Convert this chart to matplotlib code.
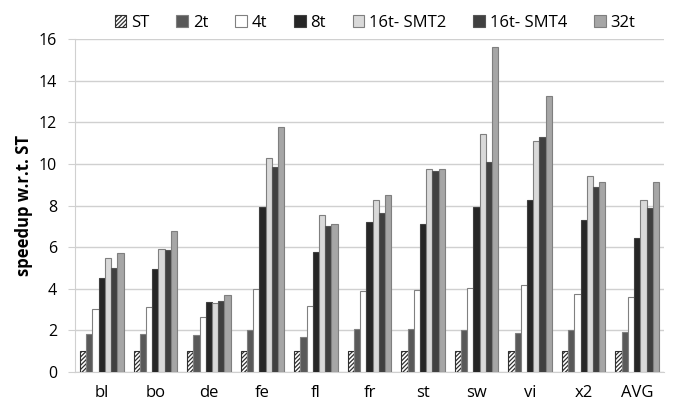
import matplotlib
matplotlib.use("Agg")
import matplotlib.pyplot as plt
import numpy as np

categories = ["bl", "bo", "de", "fe", "fl", "fr", "st", "sw", "vi", "x2", "AVG"]
series_names = ["ST", "2t", "4t", "8t", "16t- SMT2", "16t- SMT4", "32t"]
st    = [1, 1, 1, 1, 1, 1, 1, 1, 1, 1, 1]
t2    = [1.81, 1.81, 1.78, 2.00, 1.68, 2.07, 2.05, 2.00, 1.89, 2.00, 1.92]
t4    = [3.01, 3.12, 2.64, 3.99, 3.19, 3.88, 3.94, 4.04, 4.18, 3.73, 3.59]
t8    = [4.52, 4.94, 3.36, 7.93, 5.77, 7.20, 7.11, 7.93, 8.25, 7.31, 6.43]
smt2  = [5.47, 5.91, 3.33, 10.29, 7.55, 8.27, 9.74, 11.46, 11.09, 9.41, 8.25]
smt4  = [4.98, 5.87, 3.41, 9.87, 7.03, 7.64, 9.65, 10.10, 11.28, 8.88, 7.87]
t32   = [5.71, 6.76, 3.70, 11.76, 7.13, 8.50, 9.78, 15.63, 13.25, 9.15, 9.12]
yticks = [0, 2, 4, 6, 8, 10, 12, 14, 16]

series = [st, t2, t4, t8, smt2, smt4, t32]
faces = ["white", "#595959", "white", "#262626", "#d9d9d9", "#404040", "#a6a6a6"]
edges = ["#303030", "#7f7f7f", "#808080", "#404040", "#7f7f7f", "#555555", "#7f7f7f"]
hatches = ["////////", None, None, None, None, None, None]

plt.rcParams['font.family'] = ['Open Sans', 'DejaVu Sans']
plt.rcParams['hatch.linewidth'] = 0.9
plt.rcParams['hatch.color'] = '#202020'

fig = plt.figure(figsize=(6.76, 4.11), dpi=100)
ax = fig.add_axes([75/676, 1 - 372/411, (664 - 75)/676, (372 - 39.3)/411])

x = np.arange(len(categories))
w = 0.116
offsets = (np.arange(7) - 3) * w
for i, vals in enumerate(series):
    ax.bar(x + offsets[i], vals, width=w, color=faces[i], edgecolor=edges[i],
           linewidth=0.8, hatch=hatches[i], label=series_names[i], zorder=3)

ax.set_xlim(-0.5, len(categories) - 0.5)
ax.set_ylim(0, 16)
ax.set_yticks(yticks)
ax.set_yticklabels([str(v) for v in yticks], fontsize=11.5)
ax.set_xticks(x)
ax.set_xticklabels(categories, fontsize=12)
ax.tick_params(axis='x', length=0, pad=9)
ax.tick_params(axis='y', length=5, color="#d0d0d0", pad=8)
ax.yaxis.grid(True, color="#d0d0d0", linewidth=1, zorder=0)
ax.set_axisbelow(True)
for s in ["top", "right"]:
    ax.spines[s].set_visible(False)
ax.spines["left"].set_color("#d0d0d0")
ax.spines["bottom"].set_color("#d0d0d0")
ax.set_ylabel("speedup w.r.t. ST", fontsize=12, fontweight='bold', labelpad=4)

leg = fig.legend(loc='upper center', bbox_to_anchor=(0.555, 1.0), ncol=7, frameon=False,
                 fontsize=12, handlelength=0.7, handleheight=0.7, handletextpad=0.3,
                 columnspacing=1.6)

fig.savefig("out.png", dpi=100)
